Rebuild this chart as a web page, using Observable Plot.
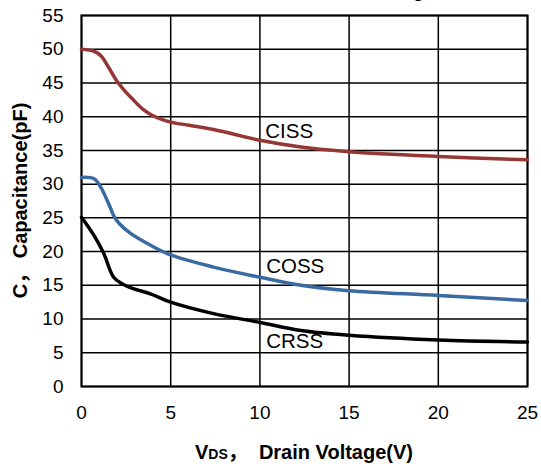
<!DOCTYPE html>
<html>
<head>
<meta charset="utf-8">
<script src="https://cdn.jsdelivr.net/npm/d3@7"></script>
<script src="https://cdn.jsdelivr.net/npm/@observablehq/plot@0.6"></script>
<style>
  html, body { margin: 0; padding: 0; background: #fff; }
  #chart svg { overflow: visible; }
</style>
</head>
<body>
<div id="chart"></div>
<script>
// ---- data ----
const titleText = "Drain-Source Voltage";
const xTicks = [0, 5, 10, 15, 20, 25];
const yTicks = [0, 5, 10, 15, 20, 25, 30, 35, 40, 45, 50, 55];

const cissV = [0, 0.7, 1.1, 1.5, 2.0, 2.5, 2.9, 3.4, 3.9, 4.5, 5.0, 7.4, 10, 12.3, 15, 20, 25];
const cissC = [50.0, 49.7, 49.0, 47.4, 45.2, 43.6, 42.5, 41.2, 40.3, 39.6, 39.2, 38.1, 36.5, 35.5, 34.8, 34.1, 33.6];

const cossV = [0, 0.7, 1.07, 1.6, 1.81, 2.1, 2.75, 3.9, 5.0, 7.4, 10, 12.3, 15, 20, 25];
const cossC = [31.0, 30.8, 29.6, 26.6, 25.3, 24.2, 22.7, 20.9, 19.5, 17.7, 16.2, 15.0, 14.2, 13.5, 12.75];

const crssV = [0, 0.7, 1.25, 1.8, 2.3, 2.9, 3.9, 5.0, 7.4, 10, 12.3, 15, 20, 25];
const crssC = [25.1, 22.4, 19.7, 16.2, 15.2, 14.5, 13.7, 12.5, 10.8, 9.5, 8.3, 7.6, 6.9, 6.6];

const seriesNames = ["CISS", "COSS", "CRSS"];
const seriesColors = ["#953735", "#3B6AA0", "#000000"];
const labelV = [10.3, 10.35, 10.35];
const labelC = [37.85, 17.8, 6.7];

const xLabelMain1 = "V";
const xLabelSub = "DS";
const xLabelMain2 = "，  Drain Voltage(V)";
const yLabel = "C， Capacitance(pF)";

// ---- build tables ----
const toRows = (vs, cs, name) => vs.map((v, i) => ({ v, c: cs[i], name }));
const rows = [
  ...toRows(cissV, cissC, "CISS"),
  ...toRows(cossV, cossC, "COSS"),
  ...toRows(crssV, crssC, "CRSS")
];
const labels = seriesNames.map((n, i) => ({ name: n, v: labelV[i], c: labelC[i] }));

const font = "'Liberation Sans', Arial, 'Noto Sans CJK SC', sans-serif";

const plot = Plot.plot({
  width: 541,
  height: 464,
  marginLeft: 81,
  marginRight: 14,
  marginTop: 15,
  marginBottom: 78,
  style: { fontFamily: font, fontSize: "19px", color: "#000", background: "#fff", overflow: "visible" },
  x: { domain: [0, 25], ticks: xTicks, tickSize: 0, tickPadding: 19, label: null },
  y: { domain: [0, 55], ticks: yTicks, tickSize: 0, tickPadding: 18, label: null },
  color: { domain: seriesNames, range: seriesColors },
  marks: [
    Plot.gridX(xTicks, { stroke: "#000", strokeOpacity: 1, strokeWidth: 1.5 }),
    Plot.gridY(yTicks, { stroke: "#000", strokeOpacity: 1, strokeWidth: 1.5 }),
    Plot.frame({ stroke: "#000", strokeWidth: 2 }),
    Plot.line(rows, { x: "v", y: "c", z: "name", stroke: "name", strokeWidth: 3.5, curve: "catmull-rom" }),
    Plot.text(labels, { x: "v", y: "c", text: "name", textAnchor: "start", lineAnchor: "middle", fontSize: 20.5, fill: "#000" })
  ]
});

const svg = d3.select(plot);
// y-axis title
svg.append("text")
  .attr("transform", "translate(27,200.5) rotate(-90)")
  .attr("text-anchor", "middle")
  .attr("font-family", font)
  .attr("font-weight", "bold")
  .attr("font-size", 20)
  .attr("fill", "#000")
  .style("white-space", "pre")
  .text(yLabel);
// x-axis title
const xt = svg.append("text")
  .attr("x", 304)
  .attr("y", 459)
  .attr("text-anchor", "middle")
  .attr("font-family", font)
  .attr("font-weight", "bold")
  .attr("font-size", 20)
  .attr("fill", "#000")
  .style("white-space", "pre");
xt.append("tspan").text(xLabelMain1);
xt.append("tspan").attr("font-size", 14).text(xLabelSub);
xt.append("tspan").text(xLabelMain2);
// chart title (mostly above the visible area)
svg.append("text")
  .attr("x", 433)
  .attr("y", -2)
  .attr("text-anchor", "end")
  .attr("font-family", font)
  .attr("font-weight", "bold")
  .attr("font-size", 17)
  .attr("fill", "#000")
  .text(titleText);

document.getElementById("chart").appendChild(plot);
</script>
</body>
</html>
